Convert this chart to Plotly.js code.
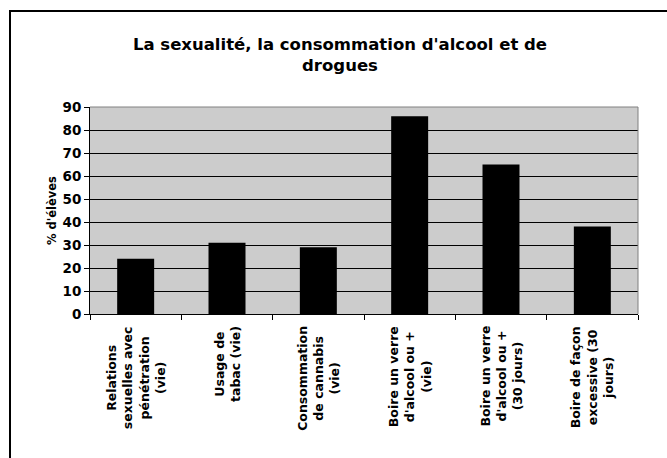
<!DOCTYPE html>
<html>
<head>
<meta charset="utf-8">
<script src="https://cdn.plot.ly/plotly-3.0.1.min.js"></script>
<style>
  html, body { margin: 0; padding: 0; background: #ffffff; }
  #wrap { position: relative; width: 667px; height: 458px; overflow: hidden; }
  #chart { position: absolute; left: 0; top: 0; width: 667px; height: 458px; }
  #frame { position: absolute; left: 9px; top: 10px; width: 700px; height: 500px;
           border-left: 2px solid #000; border-top: 2px solid #000; pointer-events: none; }
</style>
</head>
<body>
<div id="wrap">
  <div id="chart"></div>
  <div id="frame"></div>
</div>
<script>
const categories = [
  "Relations<br>sexuelles avec<br>pénétration<br>(vie)",
  "Usage de<br>tabac (vie)",
  "Consommation<br>de cannabis<br>(vie)",
  "Boire un verre<br>d'alcool ou +<br>(vie)",
  "Boire un verre<br>d'alcool ou +<br>(30 jours)",
  "Boire de façon<br>excessive (30<br>jours)"
];
const values = [24, 31, 29, 86, 65, 38];
const yTicks = [0, 10, 20, 30, 40, 50, 60, 70, 80, 90];
const titleText = "La sexualité, la consommation d'alcool et de<br>drogues";
const yTitle = "% d'élèves";

const FONT = "DejaVu Sans, Verdana, sans-serif";

const trace = {
  type: "bar",
  x: categories,
  y: values,
  marker: { color: "#000000", line: { width: 0 } },
  hoverinfo: "none"
};

const annotations = categories.map(c => ({
  x: c, xref: "x",
  y: 0, yref: "y",
  text: c,
  textangle: -90,
  showarrow: false,
  align: "center",
  xanchor: "center",
  yanchor: "top",
  yshift: -10,
  font: { family: FONT, size: 12.5, color: "#000", weight: "bold" }
}));

const layout = {
  width: 667, height: 458,
  margin: { l: 90, r: 29, t: 107, b: 144 },
  paper_bgcolor: "#ffffff",
  plot_bgcolor: "#cccccc",
  showlegend: false,
  bargap: 0.595,
  title: {
    text: titleText,
    xref: "container", x: 340 / 667, xanchor: "center",
    yref: "container", y: 1 - 50 / 458, yanchor: "top",
    font: { family: FONT, size: 16.5, color: "#000", weight: "bold" }
  },
  xaxis: {
    type: "category",
    showticklabels: false,
    ticks: "outside", tickson: "boundaries", ticklen: 5, tickcolor: "#000", tickwidth: 1,
    showline: true, linecolor: "#000", linewidth: 1,
    showgrid: false, zeroline: false, fixedrange: true
  },
  yaxis: {
    range: [0, 90],
    tickvals: yTicks,
    ticktext: yTicks.map(String),
    ticks: "outside", ticklen: 5, tickcolor: "#000", tickwidth: 1,
    showline: true, linecolor: "#000", linewidth: 1,
    showgrid: true, gridcolor: "#000", gridwidth: 1,
    zeroline: false,
    tickfont: { family: FONT, size: 13.5, color: "#000", weight: "bold" },
    title: { text: yTitle, standoff: 3,
             font: { family: FONT, size: 11.5, color: "#000", weight: "bold" } },
    fixedrange: true
  },
  shapes: [
    { type: "line", xref: "paper", yref: "paper", x0: 0, x1: 1, y0: 1, y1: 1,
      line: { color: "#808080", width: 1 }, layer: "above" },
    { type: "line", xref: "paper", yref: "paper", x0: 1, x1: 1, y0: 0, y1: 1,
      line: { color: "#808080", width: 1 }, layer: "above" }
  ],
  annotations: annotations
};

Plotly.newPlot("chart", [trace], layout, { displayModeBar: false, staticPlot: true });
</script>
</body>
</html>
